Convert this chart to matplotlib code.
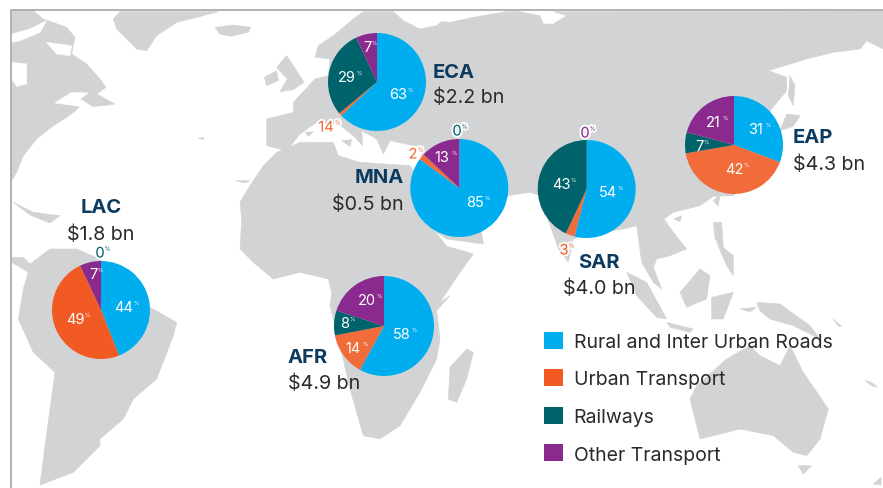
import matplotlib
matplotlib.use("Agg")
import matplotlib.pyplot as plt
import matplotlib.patheffects as pe
from matplotlib.patches import Polygon, Patch

W, H = 883, 489
plt.rcParams['font.family'] = ['Inter', 'DejaVu Sans']

# ---------- data ----------
segments = ["Rural and Inter Urban Roads", "Urban Transport", "Railways", "Other Transport"]
regions = ["ECA", "MNA", "SAR", "EAP", "LAC", "AFR"]
amounts = ["$2.2 bn", "$0.5 bn", "$4.0 bn", "$4.3 bn", "$1.8 bn", "$4.9 bn"]
# slice sizes as drawn (the ECA urban sliver is drawn far smaller than its printed 14%)
eca_sizes = [63, 1, 29, 7]
mna_sizes = [85, 2, 0, 13]
sar_sizes = [54, 3, 43, 0]
eap_sizes = [31, 42, 7, 21]
lac_sizes = [44, 49, 0, 7]
afr_sizes = [58, 14, 8, 20]
eca_labels = [63, 14, 29, 7]
mna_labels = [85, 2, 0, 13]
sar_labels = [54, 3, 43, 0]
eap_labels = [31, 42, 7, 21]
lac_labels = [44, 49, 0, 7]
afr_labels = [58, 14, 8, 20]

BLUE, ORANGE, ORANGE2, TEAL, PURPLE = "#00AEEF", "#F15A22", "#F26B3A", "#00626A", "#8A2A8E"
LAND = "#D1D3D4"
NAVY, DARK = "#0B3A5E", "#2A2A2C"

fig = plt.figure(figsize=(W / 100, H / 100), dpi=100)
ax = fig.add_axes([0, 0, 1, 1])


def px(x, y):
    return x, H - y


def z1(*p):
    return [(x / 3, y / 3) for x, y in p]


def z2(*p):
    return [(440 + x / 3, y / 3) for x, y in p]


def z3(*p):
    return [(x / 3, 240 + y / 3) for x, y in p]


def z4(*p):
    return [(440 + x / 3, 240 + y / 3) for x, y in p]


# ---------- background map outline (traced by eye, not data) ----------
north_america = z1((35, 35), (100, 35), (130, 60), (200, 85), (225, 115), (215, 165), (260, 195), (300, 240),
                   (318, 265), (290, 285), (345, 315), (310, 320), (240, 325), (200, 355), (160, 380), (110, 420),
                   (70, 470), (50, 520), (35, 545))
hudson = z1((35, 190), (80, 195), (80, 255), (50, 262), (35, 240))
foxe = z1((35, 105), (90, 90), (140, 65), (120, 100), (60, 125), (35, 130))
baffin = z1((140, 130), (215, 140), (210, 170), (170, 165))
stlaw = z1((165, 312), (215, 280), (265, 282), (240, 300), (275, 322), (215, 358), (240, 322))
greenland = z1((340, 60), (360, 38), (655, 38), (590, 55), (530, 70), (470, 110), (440, 155), (410, 150), (380, 120), (350, 90))
iceland = z1((645, 85), (700, 78), (752, 85), (745, 100), (690, 112), (660, 105))
uk = z1((830, 205), (860, 170), (880, 200), (912, 250), (880, 272), (840, 278), (862, 240))
ireland = z1((793, 235), (830, 215), (835, 245), (800, 260))
cuba = z1((40, 610), (100, 640), (180, 650), (150, 672), (90, 648))
eurasia = (z1((945, 175), (955, 140), (1000, 110), (1060, 60), (1090, 38), (1180, 38), (1210, 65), (1260, 90),
              (1310, 80), (1325, 68))
           + z2((30, 70), (100, 55), (200, 38), (235, 38), (300, 50), (310, 75), (340, 75), (380, 50), (340, 38),
                (1329, 36), (1329, 150), (1280, 125), (1260, 150), (1180, 160), (1100, 180), (985, 215), (1040, 235),
                (1040, 275), (990, 335), (1020, 400), (1020, 480), (880, 590), (820, 592), (780, 620), (700, 640),
                (672, 660), (700, 700), (740, 750))
           + z4((690, 50), (650, 60), (640, 85), (665, 150), (640, 130), (605, 70))
           + z2((590, 680), (550, 690), (480, 700))
           + z4((400, 0), (385, 70), (355, 30))
           + z2((300, 590), (270, 580), (205, 590), (120, 670))
           + z4((130, 15), (20, 0))
           + z1((1310, 700), (1280, 560), (1265, 470), (1265, 445), (1170, 425), (1150, 465), (1130, 420), (1085, 395),
                (1088, 440), (1060, 410), (1015, 375), (950, 370), (900, 405), (860, 455), (800, 440), (800, 360),
                (880, 340), (880, 310), (945, 240), (985, 230), (990, 180)))
africa = (z1((830, 460), (790, 500), (750, 560), (720, 610), (725, 660), (720, 750))
          + z3((760, 70), (820, 120), (900, 100), (985, 120), (995, 160), (990, 200), (1020, 320), (1050, 450),
               (1090, 590), (1140, 600), (1200, 560), (1260, 460), (1310, 360), (1320, 300), (1310, 215), (1350, 170))
          + z4((0, 190), (60, 100), (100, 45), (50, 30), (20, 22))
          + z1((1300, 690), (1270, 560), (1230, 500), (1080, 490), (1015, 470), (1000, 430), (900, 430)))
south_america = z3((35, 55), (70, 55), (90, 75), (150, 30), (230, 30), (300, 60), (450, 205), (530, 250), (520, 290),
                   (470, 420), (400, 480), (370, 540), (300, 600), (300, 620), (220, 700), (120, 738), (135, 620),
                   (165, 400), (100, 340), (55, 240), (70, 150), (85, 100), (35, 70))
madagascar = z4((25, 480), (30, 385), (80, 330), (100, 340), (80, 420), (50, 490))
australia = z4((750, 480), (770, 440), (860, 360), (930, 320), (960, 350), (1020, 380), (1050, 320), (1090, 400),
               (1165, 510), (1140, 600), (1100, 650), (1060, 640), (1000, 590), (900, 570), (780, 600))
tasmania = z4((1075, 680), (1115, 680), (1090, 705))
new_guinea = z4((950, 190), (1020, 195), (1110, 260), (1140, 300), (1060, 260), (990, 240), (960, 215))
borneo = z4((720, 160), (780, 90), (810, 110), (800, 180), (740, 205))
sumatra = z4((560, 100), (620, 130), (680, 240), (650, 235), (590, 170))
java = z4((680, 250), (760, 270), (750, 280), (690, 265))
sulawesi = z4((815, 175), (880, 160), (850, 240), (815, 240))
philippines = z4((830, 10), (880, 50), (880, 110), (860, 80))
taiwan = z2((820, 605), (840, 585), (835, 622))
hainan = z2((702, 660), (725, 650), (720, 668))
luzon = z2((820, 670), (845, 670), (850, 750), (825, 720))
sakhalin = z2((1050, 230), (1065, 260), (1060, 320), (1045, 290))
japan = z2((1040, 345), (1080, 350), (1060, 382), (1020, 395), (1030, 370))
sicily = z1((1025, 425), (1055, 422), (1050, 442))
sardinia = z1((915, 400), (940, 398), (925, 412))
nz_north = z4((1275, 425), (1295, 430), (1312, 445), (1295, 440))
nz_south = z4((1300, 735), (1323, 715), (1323, 738))
solomon = z4((1180, 240), (1205, 262), (1195, 262))
timor = z4((900, 210), (950, 205), (930, 218))
bahamas = z1((595, 418), (612, 415), (610, 422))
cape_verde = z1((705, 545), (750, 545), (735, 552))

for poly in [north_america, greenland, iceland, uk, ireland, cuba, eurasia, africa, south_america, madagascar,
             australia, tasmania, new_guinea, borneo, sumatra, java, sulawesi, philippines, taiwan, hainan, luzon,
             sakhalin, japan, sicily, sardinia, nz_north, nz_south, solomon, timor, bahamas, cape_verde]:
    ax.add_patch(Polygon([px(*p) for p in poly], closed=True, fc=LAND, ec=LAND, lw=0.4, zorder=1))
for poly in [hudson, foxe, baffin, stlaw]:
    ax.add_patch(Polygon([px(*p) for p in poly], closed=True, fc="white", ec="white", lw=0.4, zorder=1.5))

# ---------- pies ----------
pies = [
    (eca_sizes, eca_labels, (377, 83), 49, ORANGE2),
    (mna_sizes, mna_labels, (459.3, 189), 49, ORANGE2),
    (sar_sizes, sar_labels, (586.7, 190), 49, ORANGE2),
    (eap_sizes, eap_labels, (734, 146), 49, ORANGE2),
    (lac_sizes, lac_labels, (101, 311), 49, ORANGE),
    (afr_sizes, afr_labels, (384, 327), 50, ORANGE2),
]
label_xy = [
    [(398, 94), (326, 127), (347, 77), (367, 47)],
    [(475, 202), (413, 154), (457, 131), (442, 157)],
    [(608, 192), (564, 250), (561, 184), (585, 133)],
    [(756, 129), (734, 169), (699, 146), (713, 122)],
    [(124, 307), (75, 319), (100, 253), (93, 274)],
    [(402, 334), (353, 348), (345, 323), (367, 300)],
]
outside = {(0, 1): ORANGE2, (1, 1): ORANGE2, (1, 2): TEAL, (2, 1): ORANGE, (2, 3): PURPLE, (4, 2): TEAL}

for i, (sizes, labels, c, r, orange) in enumerate(pies):
    ax.pie(sizes, colors=[BLUE, orange, TEAL, PURPLE], center=px(*c), radius=r, startangle=90, counterclock=False,
           normalize=True, wedgeprops=dict(lw=0, zorder=3), frame=True)
    for j, (lab, xy) in enumerate(zip(labels, label_xy[i])):
        col = outside.get((i, j), "white")
        fx = [pe.withStroke(linewidth=3, foreground="white", alpha=0.85)] if (i, j) in outside else None
        half = 4.3 * len(str(lab))
        ax.text(*px(xy[0], xy[1]), str(lab), ha="center", va="center_baseline", fontsize=10.5, color=col,
                zorder=5, path_effects=fx)
        ax.text(*px(xy[0] + half + 0.5, xy[1] - 3), "%", ha="left", va="center", fontsize=4, color=col, zorder=5,
                path_effects=fx)

ax.set_xlim(0, W)
ax.set_ylim(0, H)
ax.set_aspect("equal")
ax.axis("off")

# ---------- region captions ----------
caption = {
    "ECA": (433, 78, 103, "left"),
    "MNA": (404, 183, 210, "right"),
    "SAR": (599, 268, 294, "center"),
    "EAP": (793, 143, 170, "left"),
    "LAC": (101, 213, 240, "center"),
    "AFR": (288, 363, 389, "left"),
}
for reg, amt in zip(regions, amounts):
    x, y1, y2, ha = caption[reg]
    ax.text(*px(x, y1), reg, ha=ha, va="baseline", fontsize=14.5, fontweight="bold", color=NAVY, zorder=6)
    ax.text(*px(x, y2), amt, ha=ha, va="baseline", fontsize=14.2, color=DARK, zorder=6)

# ---------- legend ----------
handles = [Patch(fc=c, ec="none") for c in [BLUE, ORANGE, TEAL, PURPLE]]
ax.legend(handles, segments, loc="upper left", bbox_to_anchor=(538.5 / W, 1 - 327 / H), frameon=False, fontsize=14,
          handlelength=0.95, handleheight=0.95, handletextpad=0.55, labelspacing=0.95, labelcolor=DARK,
          borderpad=0.3, borderaxespad=0)

# ---------- frame ----------
ax.plot([11, 11, W], [0, H - 11, H - 11], color="#A6A6A6", lw=1.2, zorder=7, clip_on=False)

fig.savefig("out.png", dpi=100)
